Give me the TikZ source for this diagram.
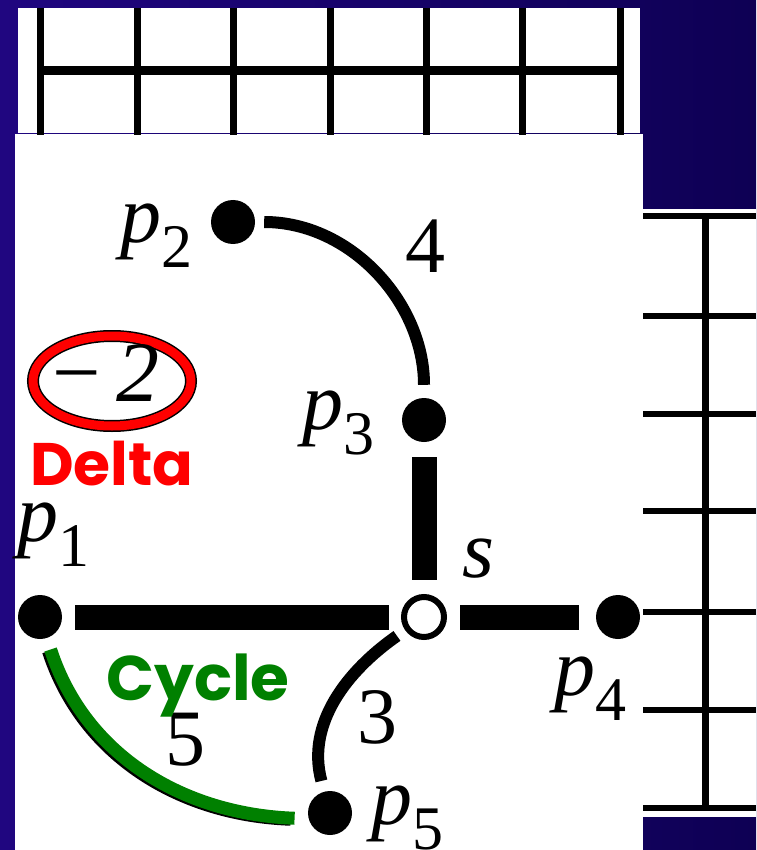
\documentclass[tikz,border=0pt]{standalone}
\usepackage{fontspec}
\setmainfont{Liberation Serif}
\newfontfamily\gothic{Poppins}
\usepackage{xcolor}
\usepackage{tikz}
\usetikzlibrary{positioning}
\definecolor{navyleft}{RGB}{32,6,128}
\definecolor{navyright}{RGB}{14,0,84}
\definecolor{cyclegreen}{RGB}{0,128,0}
\tikzset{
  vtx/.style={circle,fill=black,inner sep=0pt,minimum size=44pt},
  srcvtx/.style={circle,draw=black,fill=white,line width=6pt,inner sep=0pt,minimum size=40pt},
  heavyedge/.style={line width=25pt,shorten <=13pt,shorten >=12pt},
  lightedge/.style={line width=12pt,shorten <=10pt,shorten >=11pt},
  cycleedge/.style={line width=13pt,draw=cyclegreen,shorten <=12pt,shorten >=15pt},
  vlabel/.style={inner sep=0pt,anchor=base west,font=\fontsize{82}{82}\selectfont\itshape},
  elabel/.style={inner sep=0pt,anchor=base west,font=\fontsize{80}{80}\selectfont},
  note/.style={inner sep=0pt,anchor=base west,font=\gothic\bfseries\fontsize{60}{60}\selectfont},
  gridln/.style={line width=7pt},
}
\newcommand{\psub}[1]{\raisebox{-25pt}{\upshape\fontsize{62}{62}\selectfont #1}}
\begin{document}
\begin{tikzpicture}[x=1pt,y=-1pt]
\useasboundingbox (0,0) rectangle (756,850);
\shade[left color=navyleft,right color=navyright] (0,0) rectangle (756,850);
% panels
\fill[white] (18,8) rectangle (640,133);
\fill[white] (15,134) rectangle (643,850);
\fill[white] (643,209) rectangle (756,817);
% grids
\foreach \x in {40,137,233,330,426,522,620} \draw[gridln] (\x,8) -- (\x,135);
\draw[gridln,line width=9pt] (40,71) -- (620,71);
\foreach \y in {216,316,414,511,612,710,808} \draw[gridln,line width=6pt] (643,\y) -- (756,\y);
\draw[gridln] (705,216) -- (705,808);
% vertices
\node[vtx] (p1) at (40,617) {};
\node[vtx] (p2) at (233,222) {};
\node[vtx] (p3) at (424,420) {};
\node[srcvtx] (s) at (424,617) {};
\node[vtx] (p4) at (618,617) {};
\node[vtx] (p5) at (330,813) {};
% edges
\draw[heavyedge] (p1) -- (s);
\draw[heavyedge,shorten >=17pt] (s) -- (p4);
\draw[heavyedge,shorten <=15pt,shorten >=14pt] (p3) -- (s);
\draw[lightedge,shorten <=9pt,shorten >=13pt] (p2) to[out=0,in=90] (p3);
\draw[lightedge] (s) to[out=215,in=105] (p5);
\draw[cycleedge,draw=black,line width=11pt,transform canvas={xshift=-3pt,yshift=-2pt}] (p1) to[out=-72,in=178] (p5.195);
\draw[cycleedge,shorten >=14pt] (p1) to[out=-72,in=178] (p5.195);
% labels
\node[vlabel] (lp1) at (17,541) {p\psub{1}};
\node[vlabel] (lp2) at (120,242) {p\psub{2}};
\node[vlabel] (lp3) at (302,429) {p\psub{3}};
\node[vlabel] (lp4) at (554,695) {p\psub{4}};
\node[vlabel] (lp5) at (371,824) {p\psub{5}};
\node[vlabel] (ls) at (462,577) {s};
\node[elabel] (w4) at (405,272) {4};
\node[elabel] (w3) at (357,743) {3};
\node[elabel] (w5) at (165,765) {5};
% delta
\draw[line width=12pt] (112,381) ellipse [x radius=79,y radius=45];
\draw[red,line width=9pt] (112,381) ellipse [x radius=79,y radius=45];
\node[elabel,font=\fontsize{86}{86}\selectfont] (dval) at (52,401) {−\hspace{16pt}\textit{2}};
\node[note,text=red] (dnote) at (30,485) {Delta};
\node[note,text=cyclegreen,font=\gothic\bfseries\fontsize{63}{63}\selectfont] (cnote) at (106,700) {Cycle};
\end{tikzpicture}
\end{document}
